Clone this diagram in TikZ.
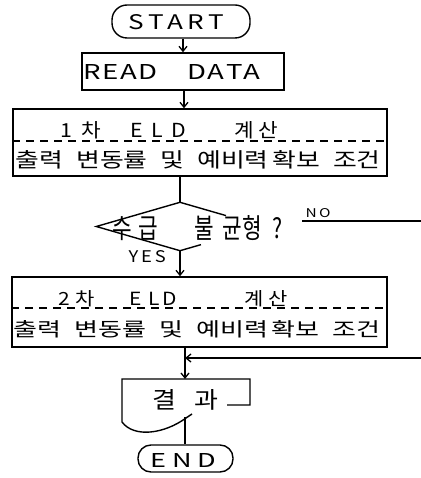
\documentclass[tikz,border=0pt]{standalone}
\usepackage{graphicx}
\usepackage{fontspec}
\setmainfont{Noto Sans CJK KR}
\usetikzlibrary{arrows.meta,shapes.geometric,calc}
\newcommand{\fitt}[3]{\resizebox{#1pt}{#2pt}{\fontsize{20}{20}\selectfont #3}}
\begin{document}
\begin{tikzpicture}[x=1pt,y=-1pt,line width=1.4pt,
  term/.style={draw,inner sep=0pt},
  boxx/.style={draw,inner sep=0pt},
  lbl/.style={inner sep=0pt,anchor=base west},
  arr/.style={-{Straight Barb[length=5pt,width=8pt,line width=1.3pt]}},
  sep/.style={line width=1.1pt,dash pattern=on 8pt off 6pt}]
\useasboundingbox (0,0) rectangle (420,478);
% START
\node[term,rounded corners=15pt,minimum width=138pt,minimum height=33pt] (start) at (181,21.5) {};
\node[lbl] (tstart) at (128,30) {\fitt{95}{15}{S\kern3pt T\kern3pt A\kern3pt R\kern3pt T}};
% READ DATA
\node[boxx,minimum width=202pt,minimum height=37pt] (read) at (183,71.5) {};
\node[lbl] (tread) at (83,80) {\fitt{177}{15}{R\kern1pt E\kern1pt A\kern1pt D\hspace{22pt}D\kern1pt A\kern1pt T\kern1pt A}};
% Box 1
\node[boxx,minimum width=374pt,minimum height=67pt] (b1) at (200,142.5) {};
\node[lbl] (b1a) at (60,138) {\fitt{217}{16}{1\hspace{8pt}차\hspace{28pt}E\hspace{8pt}L\hspace{8pt}D\hspace{45pt}계\hspace{4pt}산}};
\draw[sep] (b1.west |- 0,141) -- (b1.east |- 0,141);
\node[lbl] (b1b) at (15,168) {\fitt{365}{17}{출력\hspace{10pt}변동률\hspace{10pt}및\hspace{10pt}예비력\hspace{3pt}확보\hspace{10pt}조건}};
% Decision (right half overwritten by the text, as in the sketch)
\node[diamond,minimum width=166pt,minimum height=47pt,inner sep=0pt] (d) at (180,226.5) {};
\draw (d.south) -- (d.west) -- (d.north) -- ($(d.north)!0.55!(d.east)$);
\draw (d.south) -- ($(d.south)!0.25!(d.east)$);
\node[lbl] (q) at (112,238) {\fitt{170}{23}{수\hspace{6pt}급\hspace{34pt}불\hspace{8pt}균형\hspace{10pt}?}};
\node[lbl] (no) at (305,217) {\fitt{25}{9}{N\kern3pt O}};
\node[lbl] (yes) at (128,262) {\fitt{37}{12}{Y\kern3pt E\kern3pt S}};
% Box 2
\node[boxx,minimum width=375pt,minimum height=70pt] (b2) at (199.5,312) {};
\node[lbl] (b2a) at (58,305) {\fitt{229}{15}{2\hspace{5pt}차\hspace{33pt}E\hspace{6pt}L\hspace{3pt}D\hspace{65pt}계\hspace{4pt}산}};
\draw[sep] (b2.west |- 0,308) -- (b2.east |- 0,308);
\node[lbl] (b2b) at (13,336) {\fitt{367}{16}{출력\hspace{10pt}변동률\hspace{10pt}및\hspace{10pt}예비력\hspace{3pt}확보\hspace{10pt}조건}};
% Document (result)
\coordinate (doct) at (185,379);
\coordinate (docb) at (185,417);
\draw (227,405) -- (250,405) -- (250,379) -- (122,379) -- (122,422)
  .. controls (134,438) and (164,434) .. (186,418) -- (192,414);
\node[lbl] (res) at (152,408) {\fitt{66}{19}{결\hspace{14pt}과}};
% END
\node[term,rounded corners=13pt,minimum width=95pt,minimum height=27pt] (end) at (185.5,458.5) {};
\node[lbl] (tend) at (150,467) {\fitt{65}{14}{E\kern4pt N\kern4pt D}};
% connectors
\coordinate (m) at (185,358);
\coordinate (nos) at (302,221);
\draw[arr] (start.south -| 183,0) -- (read.north -| 183,0);
\draw[arr] (read.south -| 184,0) -- (b1.north -| 184,0);
\draw (b1.south -| d.north) -- (d.north);
\draw[arr] (d.south) -- (b2.north -| d.south);
\draw[arr] (b2.south -| doct) -- (doct);
\draw[arr] (nos) -- (426,221) -- (426,358) -- (m);
\draw (docb) -- (end.north -| docb);
\end{tikzpicture}
\end{document}
